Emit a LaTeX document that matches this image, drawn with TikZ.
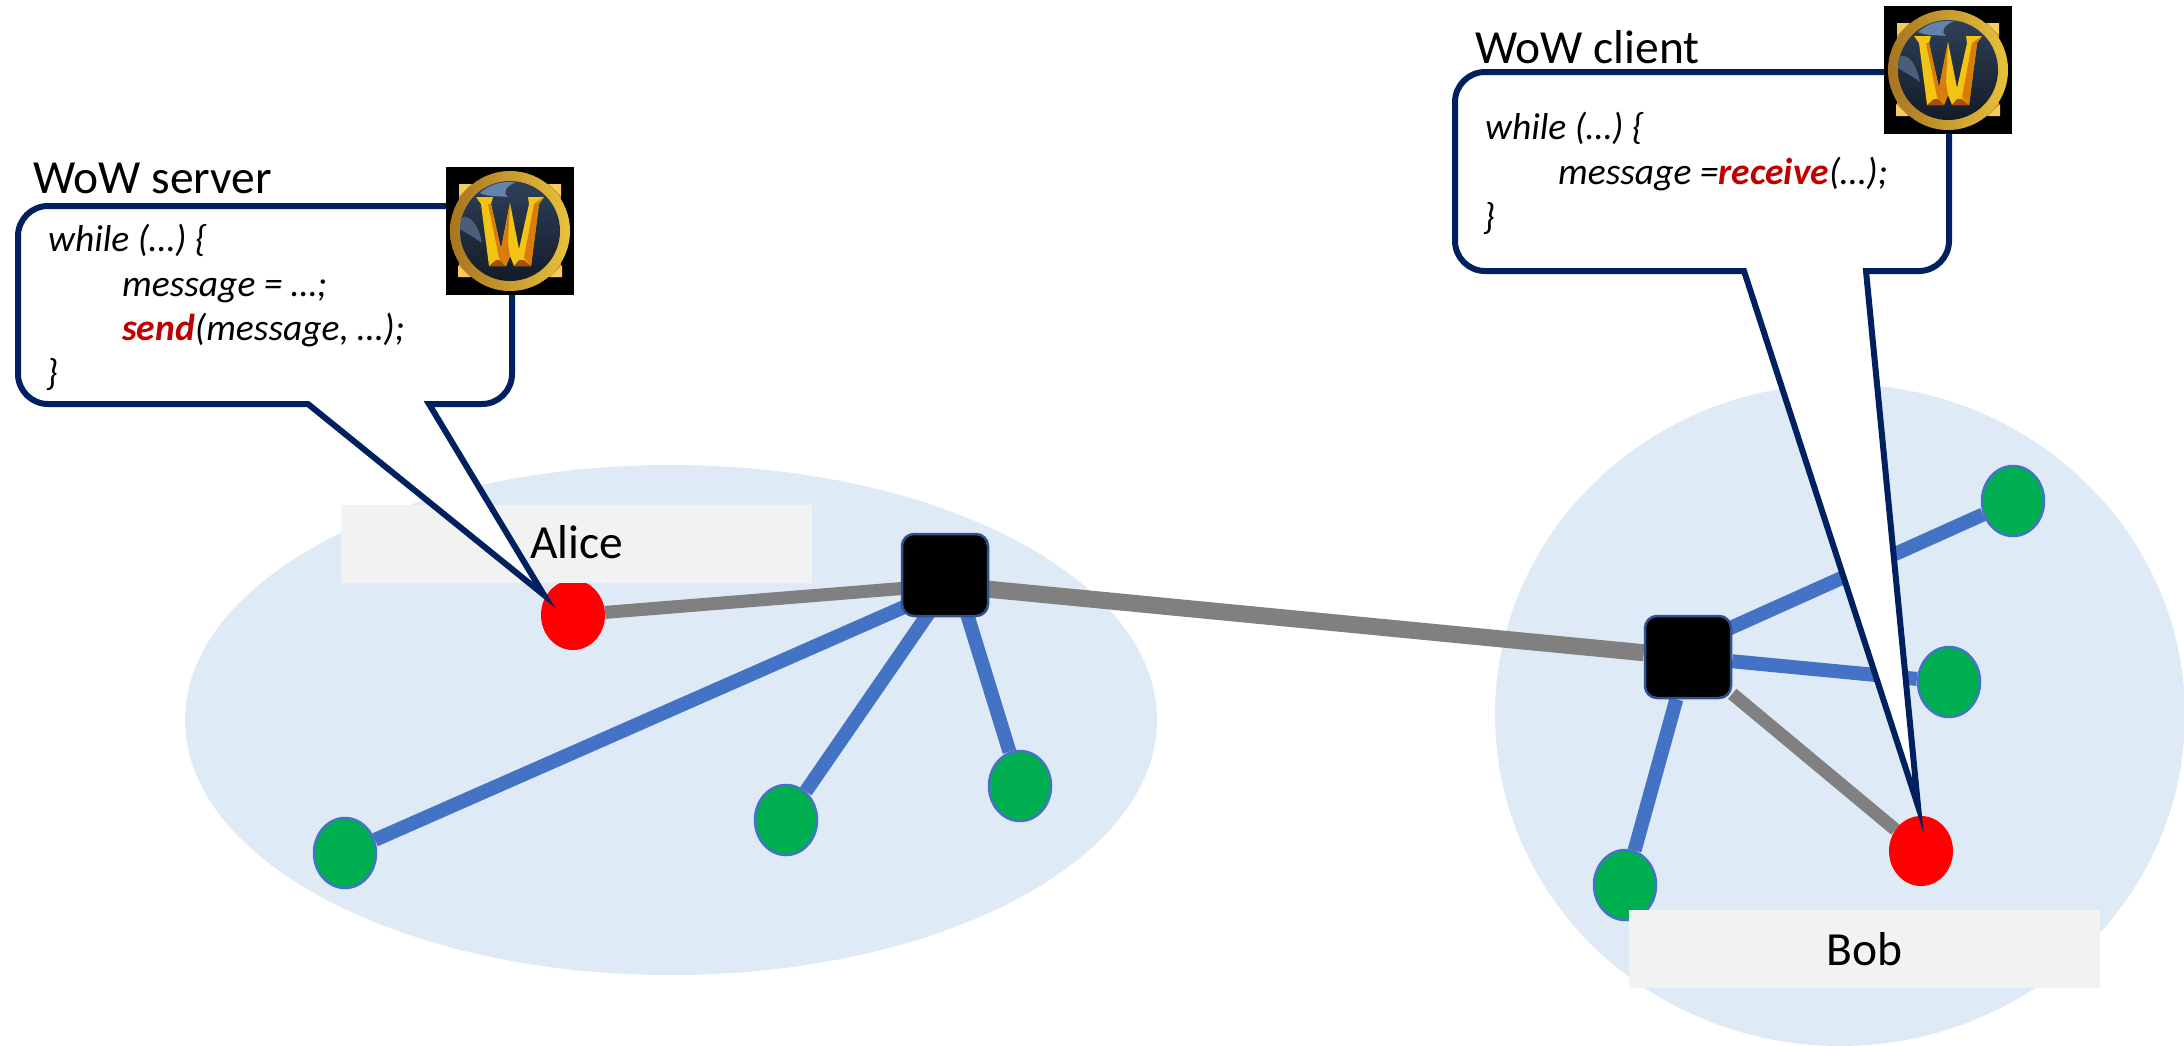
\documentclass[tikz,border=0pt]{standalone}
\usepackage{fontspec}
\setmainfont{Carlito}
\usetikzlibrary{shapes.geometric,calc}
\pgfdeclarelayer{bg}
\pgfdeclarelayer{links}
\pgfsetlayers{bg,links,main}
\definecolor{cloud}{HTML}{DEEAF6}
\definecolor{labelbg}{HTML}{F2F2F2}
\definecolor{navy}{HTML}{002060}
\definecolor{linkblue}{HTML}{4472C4}
\definecolor{linkgray}{HTML}{808080}
\definecolor{swborder}{HTML}{2F528F}
\definecolor{hostgreen}{HTML}{00B050}
\definecolor{kwred}{HTML}{C00000}
\definecolor{ringa}{HTML}{E8C23C}
\definecolor{ringb}{HTML}{A87420}
\definecolor{discc}{HTML}{141B28}
\definecolor{discm}{HTML}{2E4058}
\definecolor{discl}{HTML}{6482AA}
\definecolor{discg}{HTML}{4A5E7A}
\definecolor{wgold}{HTML}{F4C414}
\definecolor{worange}{HTML}{D87C0E}
\definecolor{wdark}{HTML}{A84E08}
\definecolor{cornergold}{HTML}{D89020}
\definecolor{cornertip}{HTML}{F4CC60}
\newcommand{\bigfont}{\fontsize{47.5}{47.5}\selectfont}
\newcommand{\codefont}{\fontsize{37.5}{37.5}\selectfont\itshape}
\tikzset{
  x=1pt,y=-1pt,
  cloudshape/.style={ellipse,fill=cloud,inner sep=0pt},
  host/.style={ellipse,minimum width=62pt,minimum height=70pt,inner sep=0pt},
  greenhost/.style={host,fill=hostgreen,draw=linkblue,line width=2.5pt},
  redhost/.style={host,fill=red,minimum width=64pt},
  switchbox/.style={rectangle,rounded corners=12pt,fill=black,draw=swborder,line width=2.5pt,minimum width=86pt,minimum height=82pt,inner sep=0pt},
  namebox/.style={rectangle,fill=labelbg,inner sep=0pt,font=\bigfont,text height=28pt,text depth=0pt},
  bluelink/.style={draw=linkblue,line width=14pt},
  graylink/.style={draw=linkgray,line width=13pt},
  trunk/.style={draw=linkgray,line width=17pt},
  callout/.style={draw=navy,fill=white,line width=6pt,line join=miter,miter limit=20},
  titletext/.style={anchor=base west,inner sep=0pt,font=\bigfont},
  codetext/.style={anchor=base west,inner sep=0pt,font=\codefont},
  wowlogo/.pic={
    \fill[black] (-64,-64) rectangle (64,64);
    \fill[cornergold] (-51,-47) rectangle (51,46);
    \fill[cornertip] (-51,-47) -- (-39,-47) -- (-51,-35) -- cycle (51,-47) -- (39,-47) -- (51,-35) -- cycle
      (-52,46) -- (-40,46) -- (-52,34) -- cycle (52,46) -- (40,46) -- (52,34) -- cycle;
    \shade[left color=ringb,right color=ringa] (0,0) circle [radius=60];
    \shade[top color=discm,bottom color=discc] (0,0) circle [radius=50];
    \fill[discl] (-30,-38) .. controls (-20,-47) and (-8,-50) .. (6,-49) .. controls (-4,-45) and (-8,-38) .. (-2,-34) .. controls (-10,-35) and (-22,-34) .. (-30,-38) -- cycle;
    \fill[discg] (-49,-14) .. controls (-40,-16) and (-32,-8) .. (-28,12) .. controls (-36,6) and (-44,2) .. (-50,-2) -- cycle;
    \fill[wgold] (-34,-34) -- (-17,-34) -- (-19,-27) -- (-9,18) -- (0,-28) -- (9,18) -- (19,-27) -- (18,-34) -- (34,-34) -- (29,-27) -- (21,35) -- (4,35) -- (0,25) -- (-4,35) -- (-21,35) -- (-29,-27) -- cycle;
    \fill[worange] (-19,-27) -- (-9,18) -- (-4,35) -- (-11,27) -- (-22,-27) -- cycle;
    \fill[worange] (0,-28) -- (-9,18) -- (-4,35) -- (0,25) -- (-2,12) -- cycle;
    \fill[worange] (34,-34) -- (29,-27) -- (21,35) -- (14,27) -- (24,-27) -- cycle;
    \fill[wdark] (-21,35) -- (-14,29) -- (-10,29) -- (-4,35) -- cycle (4,35) -- (9,29) -- (14,29) -- (21,35) -- cycle;
  }
}
\begin{document}
\begin{tikzpicture}
\useasboundingbox (0,0) rectangle (2184,1045);
\begin{pgfonlayer}{bg}
  \node[cloudshape,minimum width=972pt,minimum height=510pt] (cloudA) at (671,720) {};
  \node[cloudshape,minimum width=690pt,minimum height=662pt] (cloudB) at (1840,715) {};
\end{pgfonlayer}
% hosts and switches
\node[redhost] (alice) at (573,615) {};
\node[switchbox] (swA) at (945,575) {};
\node[greenhost] (gA) at (345,853) {};
\node[greenhost] (gB) at (786,820) {};
\node[greenhost] (gC) at (1020,786) {};
\node[switchbox] (swB) at (1688,657) {};
\node[greenhost] (gD) at (2013,501) {};
\node[greenhost] (gE) at (1949,682) {};
\node[greenhost] (gF) at (1625,885) {};
\node[redhost] (bob) at (1921,851) {};
\begin{pgfonlayer}{links}
  \draw[graylink] (alice) -- ($(swA)+(0,10)$);
  \draw[bluelink] (gA) -- ($(swA)+(0,14)$);
  \draw[bluelink] (gB) -- ($(swA)+(10,0)$);
  \draw[bluelink] (gC) -- ($(swA)+(10,0)$);
  \draw[trunk] ($(swA)+(0,10)$) -- (swB);
  \draw[bluelink] (gD) -- ($(swB)+(0,-10)$);
  \draw[bluelink] (gE) -- (swB);
  \draw[bluelink] (gF) -- (swB);
  \draw[graylink] (bob) -- (swB);
\end{pgfonlayer}
% name boxes
\node[namebox,minimum width=471pt,minimum height=78pt] (aliceLabel) at (576.5,544) {Alice};
\node[namebox,text height=32pt,minimum width=471pt,minimum height=78pt] (bobLabel) at (1864.5,949) {Bob};
% callouts
\coordinate (tipA) at (544,595);
\coordinate (tipB) at (1918,806);
\draw[callout] (308,404) -- (48,404) .. controls (31.5,404) and (18,390.5) .. (18,374) -- (18,236)
  .. controls (18,219.5) and (31.5,206) .. (48,206) -- (482,206)
  .. controls (498.5,206) and (512,219.5) .. (512,236) -- (512,374)
  .. controls (512,390.5) and (498.5,404) .. (482,404) -- (429,404) -- (tipA) -- cycle;
\draw[callout] (1744,271) -- (1485,271) .. controls (1468.5,271) and (1455,257.5) .. (1455,241) -- (1455,102)
  .. controls (1455,85.5) and (1468.5,72) .. (1485,72) -- (1919,72)
  .. controls (1935.5,72) and (1949,85.5) .. (1949,102) -- (1949,241)
  .. controls (1949,257.5) and (1935.5,271) .. (1919,271) -- (1866,271) -- (tipB) -- cycle;
% logos
\pic (logoServer) at (510,231) {wowlogo};
\pic (logoClient) at (1948,70) {wowlogo};
% texts
\node[titletext] (serverTitle) at (33,193) {WoW server};
\node[titletext] (clientTitle) at (1475,63) {WoW client};
\node[codetext] (s1) at (48,251.5) {while (…) \{};
\node[codetext] (s2) at (122,296.5) {message = …;};
\node[codetext] (s3) at (122,340.5) {\textcolor{kwred}{\bfseries send}(message, …);};
\node[codetext] (s4) at (46,385) {\}};
\node[codetext] (c1) at (1485,139.5) {while (…) \{};
\node[codetext] (c2) at (1558,184.5) {message =\textcolor{kwred}{\bfseries receive}(…);};
\node[codetext] (c3) at (1483,229.5) {\}};
\end{tikzpicture}
\end{document}
